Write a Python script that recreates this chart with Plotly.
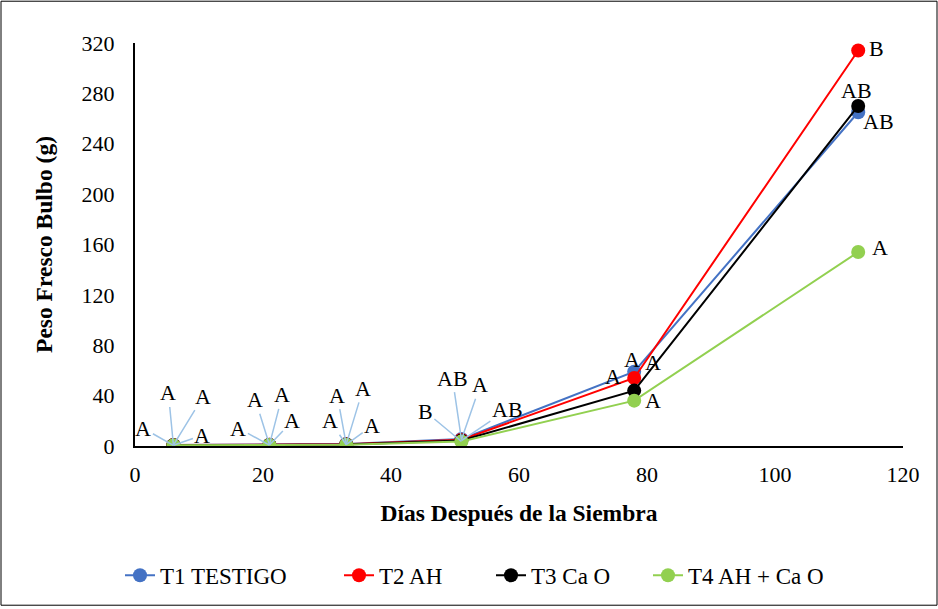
import plotly.graph_objects as go

dias = [6, 21, 33, 51, 78, 113]
series_names = ["T1 TESTIGO", "T2 AH", "T3 Ca O", "T4 AH + Ca O"]
t1 = [0.8, 1.0, 1.5, 5.5, 59, 265]
t2 = [0.7, 0.9, 1.3, 5.0, 54, 314]
t3 = [0.6, 0.8, 1.1, 4.3, 44, 270]
t4 = [0.5, 0.7, 1.0, 3.6, 36, 154]
values = [t1, t2, t3, t4]
letras = [
    ["A", "A", "A", "AB", "A", "AB"],
    ["A", "A", "A", "A", "A", "B"],
    ["A", "A", "A", "AB", "A", "AB"],
    ["A", "A", "A", "B", "A", "A"],
]
colors = ["#4472C4", "#FF0000", "#000000", "#92D050"]

# label offsets in pixels (dx, dy), per series per point; leader lines for first 4 points
offsets = [
    [(-5, -52), (-14, -45), (-9, -49), (-9, -61), (-2, -12), (20, 9)],
    [(30, -49), (13, -50), (17, -56), (19, -55), (19, -15), (18, -2)],
    [(29, -10), (23, -24), (26, -19), (46, -31), (-21, -14), (-2, -15)],
    [(-30, -17), (-31, -17), (-16, -24), (-36, -30), (19, 0), (22, -5)],
]
legend_px = [120, 339, 491, 648]

FONT = "Liberation Serif, Times New Roman, serif"
L, R, T, B = 135, 35, 43, 161
PW, PH = 938 - L - R, 609 - T - B

fig = go.Figure()
legend_ids = ["legend", "legend2", "legend3", "legend4"]
for name, vals, col, lid in zip(series_names, values, colors, legend_ids):
    fig.add_trace(go.Scatter(
        x=dias, y=vals, name=name, mode="lines+markers",
        line=dict(color=col, width=2),
        marker=dict(color=col, size=14),
        legend=lid,
    ))

annotations = []
for s in range(4):
    for i in range(len(dias)):
        dx, dy = offsets[s][i]
        if i < 4:
            annotations.append(dict(
                x=dias[i], y=values[s][i], xref="x", yref="y",
                text=letras[s][i], showarrow=True, ax=dx, ay=dy,
                arrowhead=0, arrowwidth=1.5, arrowcolor="#9DC3E6",
                font=dict(family=FONT, size=22, color="black"),
            ))
        else:
            annotations.append(dict(
                x=dias[i], y=values[s][i], xref="x", yref="y",
                text=letras[s][i], showarrow=False, xshift=dx, yshift=-dy,
                font=dict(family=FONT, size=22, color="black"),
            ))

legend_layout = {}
for lid, px in zip(legend_ids, legend_px):
    legend_layout[lid] = dict(
        orientation="h", x=(px - L) / PW, xanchor="left",
        y=(609 - B - 578) / PH, yanchor="middle",
        font=dict(family=FONT, size=23, color="black"),
        bgcolor="rgba(0,0,0,0)",
    )

fig.update_layout(
    width=938, height=609,
    margin=dict(l=L, r=R, t=T, b=B),
    plot_bgcolor="white", paper_bgcolor="white",
    font=dict(family=FONT, size=22, color="black"),
    showlegend=True,
    annotations=annotations,
    shapes=[dict(type="rect", xref="paper", yref="paper",
                 x0=(1 - L) / PW, x1=(937 - L) / PW,
                 y0=(609 - B - 608) / PH, y1=(609 - B - 1) / PH,
                 line=dict(color="black", width=1))],
    **legend_layout,
)
fig.update_xaxes(range=[0, 120], tickvals=[0, 20, 40, 60, 80, 100, 120],
                 showline=True, linecolor="black", linewidth=2, showgrid=False,
                 zeroline=False, ticks="", ticklabelstandoff=8,
                 title=dict(text="<b>Días Después de la Siembra</b>", standoff=18,
                            font=dict(family=FONT, size=23.5)))
fig.update_yaxes(range=[0, 320], tickvals=[0, 40, 80, 120, 160, 200, 240, 280, 320],
                 showline=True, linecolor="black", linewidth=2, showgrid=False,
                 zeroline=False, ticks="", ticklabelstandoff=14,
                 title=dict(text="<b>Peso Fresco Bulbo (g)</b>", standoff=22,
                            font=dict(family=FONT, size=23.5)))

fig.write_html("out.html", config={"displayModeBar": False},
               post_script="document.body.style.margin='0';")
